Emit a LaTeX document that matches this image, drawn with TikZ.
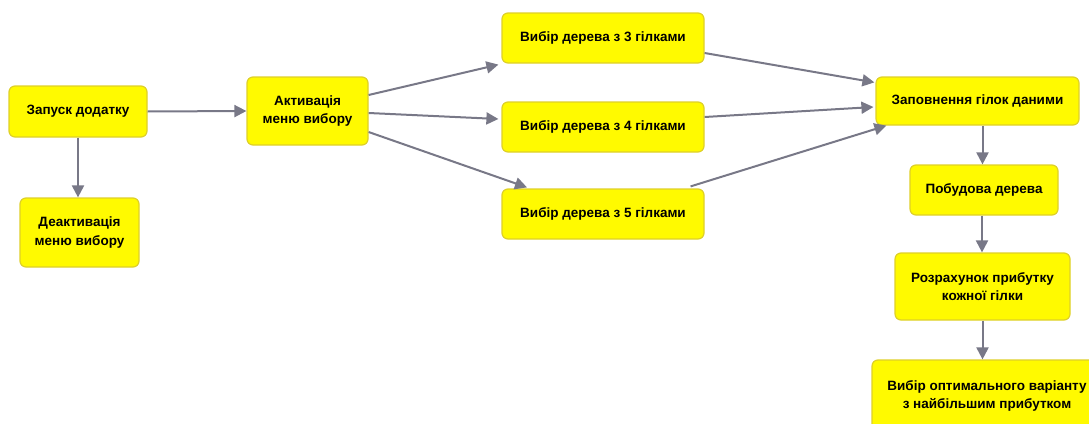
\documentclass[tikz,border=0pt]{standalone}
\usepackage{fontspec}
\setmainfont{Liberation Sans}
\usetikzlibrary{arrows.meta}
\definecolor{boxfill}{RGB}{255,250,0}
\definecolor{boxedge}{RGB}{222,208,40}
\definecolor{arrgray}{RGB}{120,120,135}
\tikzset{
  box/.style={draw=boxedge, line width=1.2pt, fill=boxfill, rounded corners=6pt,
    align=center, inner sep=2pt, font=\bfseries\fontsize{13.5}{18.5}\selectfont},
  conn/.style={draw=arrgray, line width=2pt, -{Triangle[length=12pt,width=12pt]}},
}
\begin{document}
\begin{tikzpicture}[x=1pt,y=-1pt]
\useasboundingbox (0,0) rectangle (1089,423);
\clip (0,0) rectangle (1089,423);
\node[box, minimum width=138pt, minimum height=51pt] (n1) at (78,111.5) {Запуск додатку};
\node[box, minimum width=119pt, minimum height=69pt] (n2) at (79.5,232.5) {Деактивація\\меню вибору};
\node[box, minimum width=121pt, minimum height=68pt] (n3) at (307.5,111) {Активація\\меню вибору};
\node[box, minimum width=202pt, minimum height=50pt] (n4) at (603,38) {Вибір дерева з 3 гілками};
\node[box, minimum width=202pt, minimum height=50pt] (n5) at (603,127) {Вибір дерева з 4 гілками};
\node[box, minimum width=202pt, minimum height=50pt] (n6) at (603,214) {Вибір дерева з 5 гілками};
\node[box, minimum width=203pt, minimum height=48pt] (n7) at (977.5,101) {Заповнення гілок даними};
\node[box, minimum width=148pt, minimum height=50pt] (n8) at (984,190) {Побудова дерева};
\node[box, minimum width=175pt, minimum height=67pt] (n9) at (982.5,286.5) {Розрахунок прибутку\\кожної гілки};
\node[box, minimum width=230pt, minimum height=72pt] (n10) at (987,396) {Вибір оптимального варіанту\\з найбільшим прибутком};

\draw[conn] (n1.east) -- (n3.west);
\draw[conn] (n1.south) -- (n1.south |- n2.north);
\draw[conn] ([yshift=16pt]n3.east) -- ([xshift=-3pt,yshift=-1pt]n4.south west);
\draw[conn] ([yshift=-2pt]n3.east) -- ([xshift=-3pt,yshift=8pt]n5.west);
\draw[conn] ([yshift=-21pt]n3.east) -- ([xshift=-76pt,yshift=1pt]n6.north);
\draw[conn] ([yshift=-15pt]n4.east) -- ([xshift=-1pt,yshift=-6pt]n7.north west);
\draw[conn] ([yshift=10pt]n5.east) -- ([xshift=-2pt,yshift=-6pt]n7.west);
\draw[conn] ([xshift=-14pt,yshift=2pt]n6.north east) -- ([xshift=11pt,yshift=0pt]n7.south west);
\draw[conn] ([xshift=5pt]n7.south) -- ([xshift=5pt]n7.south |- n8.north);
\draw[conn] ([xshift=-2pt]n8.south) -- ([xshift=-2pt]n8.south |- n9.north);
\draw[conn] (n9.south) -- (n9.south |- n10.north);
\end{tikzpicture}
\end{document}
